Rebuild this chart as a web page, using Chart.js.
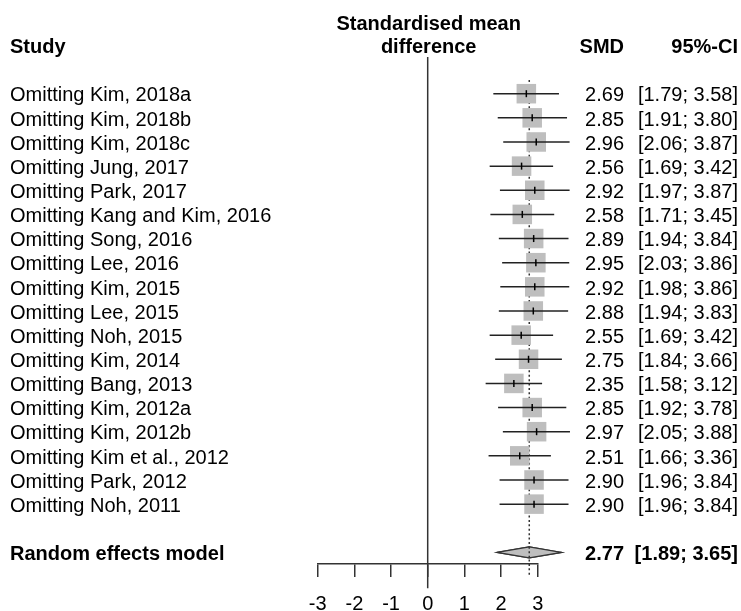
<!DOCTYPE html>
<html><head><meta charset="utf-8">
<style>html,body{margin:0;padding:0;background:#fff}canvas{display:block}</style>
<script src="https://cdn.jsdelivr.net/npm/chart.js@4.4.0/dist/chart.umd.min.js"></script>
</head><body>
<canvas id="c" width="741" height="611"></canvas>
<script>
// ---- data ----
const studies = ["Omitting Kim, 2018a","Omitting Kim, 2018b","Omitting Kim, 2018c","Omitting Jung, 2017","Omitting Park, 2017","Omitting Kang and Kim, 2016","Omitting Song, 2016","Omitting Lee, 2016","Omitting Kim, 2015","Omitting Lee, 2015","Omitting Noh, 2015","Omitting Kim, 2014","Omitting Bang, 2013","Omitting Kim, 2012a","Omitting Kim, 2012b","Omitting Kim et al., 2012","Omitting Park, 2012","Omitting Noh, 2011"];
const smd   = [2.69,2.85,2.96,2.56,2.92,2.58,2.89,2.95,2.92,2.88,2.55,2.75,2.35,2.85,2.97,2.51,2.90,2.90];
const lower = [1.79,1.91,2.06,1.69,1.97,1.71,1.94,2.03,1.98,1.94,1.69,1.84,1.58,1.92,2.05,1.66,1.96,1.96];
const upper = [3.58,3.80,3.87,3.42,3.87,3.45,3.84,3.86,3.86,3.83,3.42,3.66,3.12,3.78,3.88,3.36,3.84,3.84];
const summaryLabel = ["Random effects model"];
const summarySmd = [2.77];
const summaryLower = [1.89];
const summaryUpper = [3.65];
const xTicks = [-3,-2,-1,0,1,2,3];
const headerStudy = "Study";
const headerEffect = ["Standardised mean","difference"];
const headerSmd = "SMD";
const headerCi = "95%-CI";

// ---- layout helpers ----
const FONT = '"Liberation Sans", Arial, Helvetica, sans-serif';
const FS = 20;
const rowOf = i => i + 1;
const summaryRow = studies.length + 2;
const fmt = v => v.toFixed(2);
const ciText = (l,u) => "[" + fmt(l) + "; " + fmt(u) + "]";
const dh = 0.23;
const diamondPts = [{x:summaryLower[0],y:summaryRow},{x:summarySmd[0],y:summaryRow-dh},{x:summaryUpper[0],y:summaryRow},{x:summarySmd[0],y:summaryRow+dh},{x:summaryLower[0],y:summaryRow}];

const datasets = [];
// zero line
datasets.push({data:[{x:0,y:-0.52},{x:0,y:21.48}], showLine:true, pointRadius:0, borderColor:'#333', borderWidth:1.5, clip:false, order:20});
// dotted summary line
datasets.push({data:[{x:summarySmd[0],y:0.43},{x:summarySmd[0],y:21.02}], showLine:true, pointRadius:0, borderColor:'#333', borderWidth:1.5, borderDash:[2,2.4], clip:false, order:15});
// squares
datasets.push({data:smd.map((v,i)=>({x:v,y:rowOf(i)})), pointStyle:'rect', pointRadius:13.8, pointBackgroundColor:'#BEBEBE', pointBorderWidth:0, showLine:false, clip:false, order:10});
// CI lines
smd.forEach((v,i)=>{
  datasets.push({data:[{x:lower[i],y:rowOf(i)},{x:upper[i],y:rowOf(i)}], showLine:true, pointRadius:0, borderColor:'#222', borderWidth:1.5, clip:false, order:5});
});
// estimate ticks
datasets.push({data:smd.map((v,i)=>({x:v,y:rowOf(i)})), pointStyle:'line', rotation:90, pointRadius:3.5, pointBorderColor:'#000', pointBorderWidth:1.5, showLine:false, clip:false, order:1});
// diamond outline
datasets.push({data:diamondPts, showLine:true, fill:false, borderColor:'#333', borderWidth:1.2, pointRadius:0, tension:0, clip:false, order:4});

// diamond fill, through the chart's scales
const diamondFill = {
  id:'diamondFill',
  afterDatasetsDraw(chart){
    const ctx = chart.ctx, xs = chart.scales.x, ys = chart.scales.y;
    ctx.save();
    ctx.beginPath();
    diamondPts.forEach((p,k)=>{
      const px = xs.getPixelForValue(p.x), py = ys.getPixelForValue(p.y);
      if (k===0) ctx.moveTo(px,py); else ctx.lineTo(px,py);
    });
    ctx.closePath();
    ctx.fillStyle = '#BEBEBE';
    ctx.fill();
    ctx.strokeStyle = '#333';
    ctx.lineWidth = 1.2;
    ctx.stroke();
    // dotted line passes over the diamond
    const x = xs.getPixelForValue(summarySmd[0]);
    ctx.beginPath();
    ctx.setLineDash([2,2.4]);
    ctx.lineWidth = 1.5;
    ctx.moveTo(x, ys.getPixelForValue(summaryRow-dh));
    ctx.lineTo(x, ys.getPixelForValue(summaryRow+dh));
    ctx.stroke();
    ctx.restore();
  }
};

const textPlugin = {
  id:'forestText',
  afterDraw(chart){
    const ctx = chart.ctx, ys = chart.scales.y, xs = chart.scales.x;
    const base = r => ys.getPixelForValue(r) + 7.8;
    ctx.save();
    ctx.fillStyle = '#000';
    ctx.textBaseline = 'alphabetic';
    // headers
    ctx.font = 'bold ' + FS + 'px ' + FONT;
    ctx.textAlign = 'left';
    ctx.fillText(headerStudy, 10, base(-1));
    ctx.textAlign = 'center';
    const cx = xs.getPixelForValue(0) + 1;
    ctx.fillText(headerEffect[0], cx, base(-1.95));
    ctx.fillText(headerEffect[1], cx, base(-1));
    ctx.textAlign = 'right';
    ctx.fillText(headerSmd, 624, base(-1));
    ctx.fillText(headerCi, 738, base(-1));
    // rows
    ctx.font = FS + 'px ' + FONT;
    studies.forEach((s,i)=>{
      const y = base(rowOf(i));
      ctx.textAlign = 'left'; ctx.fillText(s, 10, y);
      ctx.textAlign = 'right'; ctx.fillText(fmt(smd[i]), 624, y);
      ctx.fillText(ciText(lower[i],upper[i]), 738, y);
    });
    // summary
    ctx.font = 'bold ' + FS + 'px ' + FONT;
    const y = base(summaryRow);
    ctx.textAlign = 'left'; ctx.fillText(summaryLabel[0], 10, y);
    ctx.textAlign = 'right'; ctx.fillText(fmt(summarySmd[0]), 624, y);
    ctx.fillText(ciText(summaryLower[0],summaryUpper[0]), 738, y);
    ctx.restore();
  }
};

new Chart(document.getElementById('c'), {
  type:'scatter',
  data:{datasets},
  options:{
    responsive:false, animation:false, devicePixelRatio:1,
    layout:{padding:{left:317.7, right:203.3, top:57, bottom:0}},
    plugins:{legend:{display:false}, tooltip:{enabled:false}},
    scales:{
      x:{type:'linear', min:-3, max:3, position:'bottom',
        afterBuildTicks:s=>{ s.ticks = xTicks.map(v=>({value:v})); },
        afterFit:s=>{ s.height = 47; },
        ticks:{font:{size:FS, family:FONT}, color:'#000', padding:15, maxRotation:0, autoSkip:false},
        grid:{drawOnChartArea:false, drawTicks:true, tickLength:13, color:'#333', lineWidth:1.5},
        border:{display:true, color:'#333', width:1.5}
      },
      y:{type:'linear', reverse:true, min:-0.52, max:20.48, display:false}
    }
  },
  plugins:[diamondFill, textPlugin]
});
</script>
</body></html>
